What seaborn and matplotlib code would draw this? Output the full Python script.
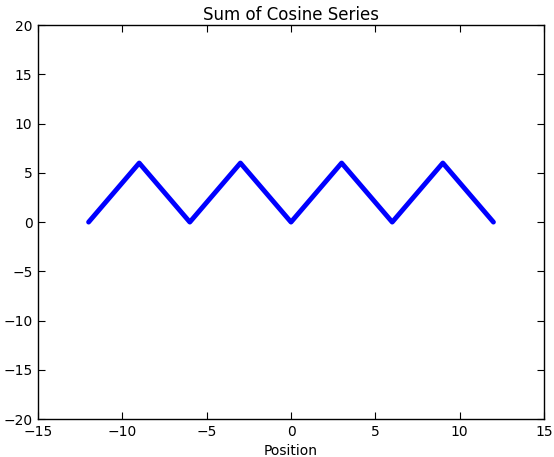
import numpy as np
import pandas as pd
import seaborn as sns
import matplotlib.pyplot as plt

# vertices of the summed cosine series (triangle wave)
position = [-12, -9, -6, -3, 0, 3, 6, 9, 12]
value = [0, 6, 0, 6, 0, 6, 0, 6, 0]

df = pd.DataFrame({"Position": position, "Value": value})

sns.set_style("white")
plt.rcParams["font.family"] = ["DejaVu Sans"]
plt.rcParams["text.color"] = "black"
plt.rcParams["axes.labelcolor"] = "black"

fig = plt.figure(figsize=(5.54, 4.57), dpi=100)
ax = fig.add_axes([0.0686, 0.083, 0.9134, 0.862])

sns.lineplot(data=df, x="Position", y="Value", color="#0000ff", linewidth=3.5,
             solid_capstyle="round", solid_joinstyle="round", ax=ax)

ax.set_xlim(-15, 15)
ax.set_ylim(-20, 20)
ax.set_xticks(range(-15, 16, 5))
ax.set_yticks(range(-20, 21, 5))
ax.set_xticklabels([str(t).replace("-", "\u2212") for t in range(-15, 16, 5)])
ax.set_yticklabels([str(t).replace("-", "\u2212") for t in range(-20, 21, 5)])
ax.tick_params(direction="in", length=5, width=0.8, top=True, right=True,
               bottom=True, left=True, labelsize=10, colors="black", pad=4)
for s in ax.spines.values():
    s.set_color("black")
    s.set_linewidth(1)
ax.set_xlabel("Position", fontsize=10, color="black")
ax.set_ylabel("")
ax.set_title("Sum of Cosine Series", fontsize=12, color="black", pad=4)

fig.savefig("out.png", dpi=100)
